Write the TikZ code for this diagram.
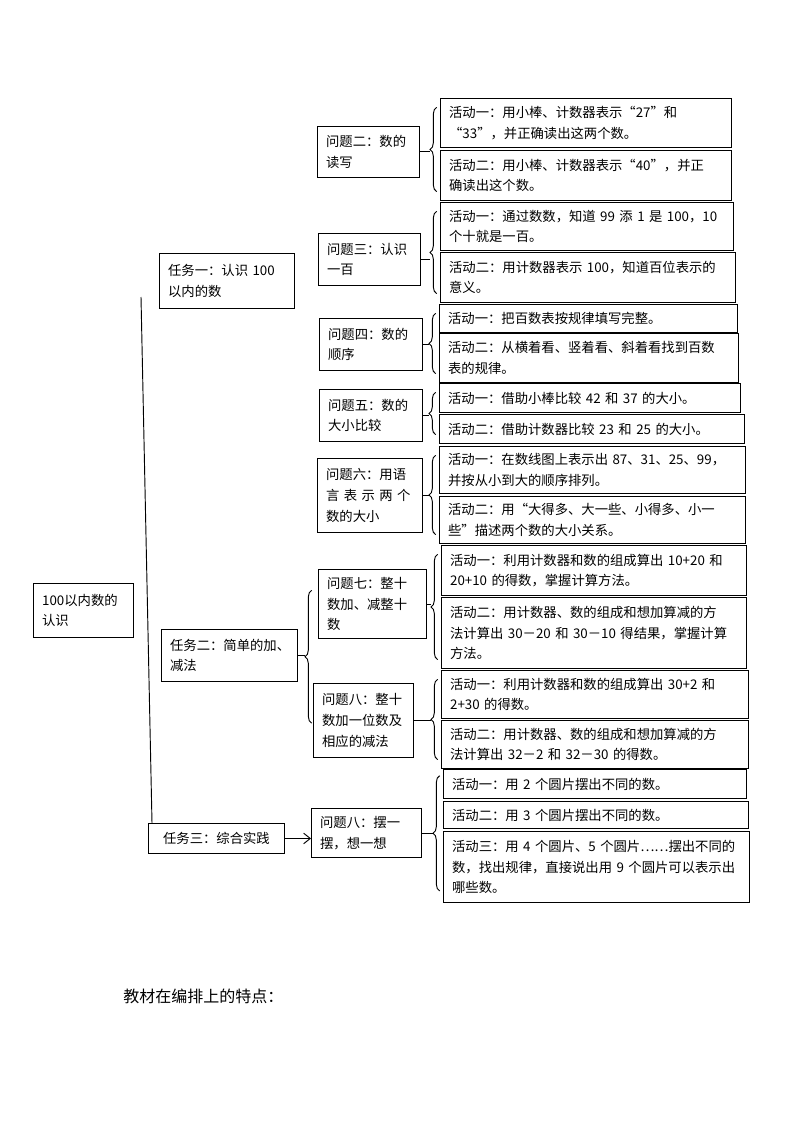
\documentclass[tikz,border=0pt]{standalone}
\usepackage{fontspec}
\setmainfont{Noto Sans CJK SC}
\newfontfamily\fwfont{Noto Sans CJK SC}[RawFeature=+fwid]
\usetikzlibrary{calc,arrows.meta,decorations.pathreplacing}

\tikzset{
  box/.style={draw, line width=0.7pt, inner xsep=6.5pt, inner ysep=2pt,
    align=left, anchor=north west, font=\fontsize{10pt}{15.5pt}\selectfont},
  sz/.code 2 args={%
    \pgfmathsetmacro\bxw{#1*0.75}%
    \pgfmathsetmacro\bxh{#2*0.75}%
    \pgfmathsetmacro\bxt{#1*0.75-13}%
    \pgfkeysalso{/tikz/minimum width=\bxw pt, /tikz/minimum height=\bxh pt,
      /tikz/text width=\bxt pt}},
  brc/.style={decorate, decoration={brace, amplitude=5pt}, line width=0.7pt},
  link/.style={line width=0.7pt},
}

\begin{document}
\begin{tikzpicture}[x=0.75pt, y=-0.75pt]
        \useasboundingbox (0,0) rectangle (794,1123);

        % Root and tasks
        \node[box, sz={100}{54}] (root) at (33,583) {100以内数的\\认识};
        \node[box, sz={135}{55}] (t1) at (159,253) {任务一：认识 100\\以内的数};
        \node[box, sz={136}{52}] (t2) at (161,629) {任务二：简单的加、\\减法};
        \node[box, sz={136}{30}, align=center] (t3) at (148,823) {任务三：综合实践};

        % Questions
        \node[box, sz={102}{51}] (q2) at (317,126) {问题二：数的\\读写};
        \node[box, sz={102}{52}] (q3) at (318,233) {问题三：认识\\一百};
        \node[box, sz={103}{52}] (q4) at (319,318) {问题四：数的\\顺序};
        \node[box, sz={103}{52}] (q5) at (319,389) {问题五：数的\\大小比较};
        \node[box, sz={105}{74}] (q6) at (317,458) {问题六：用语\\\makebox[6em][s]{言 表 示 两 个}\\数的大小};
        \node[box, sz={108}{69}] (q7) at (318,569) {问题七：整十\\数加、减整十\\数};
        \node[box, sz={100}{74}] (q8) at (313,683) {问题八：整十\\数加一位数及\\相应的减法};
        \node[box, sz={110}{49}] (q9) at (311,808) {问题八：摆一\\摆，想一想};

        % Activities
        \node[box, sz={291}{49}] (a21) at (440,98) {活动一：用小棒、计数器表示{\fwfont“}27{\fwfont”}和\\{\fwfont“}33{\fwfont”}，并正确读出这两个数。};
        \node[box, sz={291}{50}] (a22) at (440,150) {活动二：用小棒、计数器表示{\fwfont“}40{\fwfont”}，并正\\确读出这个数。};
        \node[box, sz={293}{48}] (a31) at (440,202) {活动一：通过数数，知道 99 添 1 是 100，10\\个十就是一百。};
        \node[box, sz={295}{50}] (a32) at (440,252) {活动二：用计数器表示 100，知道百位表示的\\意义。};
        \node[box, sz={298}{28}] (a41) at (439,304) {活动一：把百数表按规律填写完整。};
        \node[box, sz={299}{49}] (a42) at (439,333) {活动二：从横着看、竖着看、斜着看找到百数\\表的规律。};
        \node[box, sz={301}{29}] (a51) at (439,383) {活动一：借助小棒比较 42 和 37 的大小。};
        \node[box, sz={305}{29}] (a52) at (439,414) {活动二：借助计数器比较 23 和 25 的大小。};
        \node[box, sz={306}{47}] (a61) at (439,446) {活动一：在数线图上表示出~87、31、25、99，\\并按从小到大的顺序排列。};
        \node[box, sz={306}{47}] (a62) at (439,496) {活动二：用{\fwfont“}大得多、大一些、小得多、小一\\些{\fwfont”}描述两个数的大小关系。};
        \node[box, sz={305}{50}] (a71) at (441,545) {活动一：利用计数器和数的组成算出 10+20 和\\20+10 的得数，掌握计算方法。};
        \node[box, sz={305}{71}] (a72) at (441,597) {活动二：用计数器、数的组成和想加算减的方\\法计算出 30－20 和 30－10 得结果，掌握计算\\方法。};
        \node[box, sz={307}{48}] (a81) at (441,670) {活动一：利用计数器和数的组成算出 30+2 和\\2+30 的得数。};
        \node[box, sz={307}{48}] (a82) at (441,720) {活动二：用计数器、数的组成和想加算减的方\\法计算出 32－2 和 32－30 的得数。};
        \node[box, sz={303}{29}] (a91) at (443,769) {活动一：用 2 个圆片摆出不同的数。};
        \node[box, sz={305}{27}] (a92) at (443,801) {活动二：用 3 个圆片摆出不同的数。};
        \node[box, sz={306}{71}] (a93) at (443,831) {活动三：用 4 个圆片、5 个圆片{\fwfont……}摆出不同的\\数，找出规律，直接说出用 9 个圆片可以表示出\\哪些数。};

        % Main line
        \coordinate (spine) at (141,297);
        \draw[link] (spine) -- ([xshift=3pt]t3.north west);

        % Braces from questions to activities
        \draw[brc] ([xshift=-2.5pt,yshift=7pt]a22.south west) -- ([xshift=-2.5pt,yshift=-7pt]a21.north west);
        \draw[brc] ([xshift=-2.5pt,yshift=7pt]a32.south west) -- ([xshift=-2.5pt,yshift=-7pt]a31.north west);
        \draw[brc] ([xshift=-2.5pt,yshift=7pt]a42.south west) -- ([xshift=-2.5pt,yshift=-7pt]a41.north west);
        \draw[brc] ([xshift=-2.5pt,yshift=7pt]a52.south west) -- ([xshift=-2.5pt,yshift=-7pt]a51.north west);
        \draw[brc] ([xshift=-2.5pt,yshift=7pt]a62.south west) -- ([xshift=-2.5pt,yshift=-7pt]a61.north west);
        \draw[brc] ([xshift=-2.5pt,yshift=7pt]a72.south west) -- ([xshift=-2.5pt,yshift=-7pt]a71.north west);
        \draw[brc] ([xshift=-2.5pt,yshift=7pt]a82.south west) -- ([xshift=-2.5pt,yshift=-7pt]a81.north west);
        \draw[brc] ([xshift=-2.5pt,yshift=9pt]a93.south west) -- ([xshift=-2.5pt,yshift=-5pt]a91.north west);
        \draw[link, shorten >=7.5pt] (q2.east) -- (q2.east -| a21.west);
        \draw[link, shorten >=7.5pt] (q3.east) -- (q3.east -| a31.west);
        \draw[link, shorten >=7.5pt] (q4.east) -- (q4.east -| a41.west);
        \draw[link, shorten >=7.5pt] (q5.east) -- (q5.east -| a51.west);
        \draw[link, shorten >=7.5pt] (q6.east) -- (q6.east -| a61.west);
        \draw[link, shorten >=7.5pt] (q7.east) -- (q7.east -| a71.west);
        \draw[link, shorten >=7.5pt] (q8.east) -- (q8.east -| a81.west);
        \draw[link, shorten >=7.5pt] (q9.east) -- (q9.east -| a91.west);

        % Task two brace and task three arrow
        \draw[brc] ($(q8.west)+(-1pt,-2pt)$) -- ($(q8.west |- q7.north)+(-1pt,-16pt)$);
        \draw[link, shorten >=6pt] (t2.east) -- (t2.east -| q8.west);
        \draw[link, -{Straight Barb[length=5pt,width=8pt]}] (t3.east) -- (t3.east -| q9.west);

        % Note below
        \node[anchor=west, inner sep=0pt, font=\fontsize{12pt}{14pt}\selectfont] (note) at (123,996) {教材在编排上的特点：};
\end{tikzpicture}
\end{document}
